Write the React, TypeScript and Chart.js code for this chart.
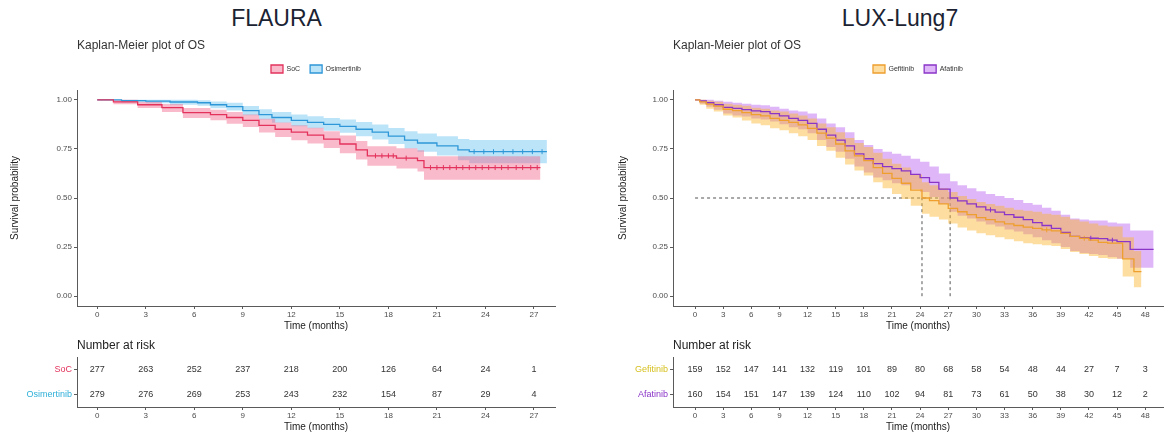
import React, { useEffect, useRef } from 'react';
import { Chart, registerables } from 'chart.js';

Chart.register(...registerables);
Chart.defaults.font.family = '"Liberation Sans", Arial, Helvetica, sans-serif';

// ================= FLAURA =================
const flauraXTicks = [0, 3, 6, 9, 12, 15, 18, 21, 24, 27];
const flauraRiskTimes = [0, 3, 6, 9, 12, 15, 18, 21, 24, 27];

const socTimes = [0, 1, 2.5, 4, 5.3, 7, 8, 9, 10, 11, 12, 13, 14, 15, 16, 16.7, 18.5, 19.8, 20.2, 27.4];
const socSurv = [1, 0.99, 0.975, 0.96, 0.935, 0.925, 0.91, 0.895, 0.87, 0.85, 0.835, 0.82, 0.8, 0.775, 0.745, 0.715, 0.703, 0.69, 0.655, 0.655];
const socLower = [1, 0.978, 0.958, 0.938, 0.908, 0.896, 0.878, 0.861, 0.833, 0.811, 0.794, 0.777, 0.755, 0.728, 0.696, 0.664, 0.65, 0.635, 0.593, 0.593];
const socUpper = [1, 1, 0.99, 0.979, 0.958, 0.95, 0.938, 0.925, 0.903, 0.885, 0.871, 0.858, 0.84, 0.818, 0.79, 0.763, 0.753, 0.743, 0.713, 0.713];
const socCensor = [17.2, 17.6, 18.0, 18.3, 19.1, 20.6, 21.0, 21.4, 21.8, 22.2, 22.6, 23.0, 23.4, 23.8, 24.2, 24.6, 25.0, 25.4, 25.9, 26.3, 26.8, 27.2];
const socAtRisk = [277, 263, 252, 237, 218, 200, 126, 64, 24, 1];

const osiTimes = [0, 1.5, 3, 4.5, 6.2, 7, 8, 9, 10, 10.8, 12, 13, 14, 15, 16, 17, 18, 19, 19.8, 21, 22.3, 23, 27.8];
const osiSurv = [1, 0.996, 0.993, 0.989, 0.985, 0.975, 0.965, 0.945, 0.925, 0.91, 0.895, 0.885, 0.875, 0.865, 0.85, 0.835, 0.815, 0.795, 0.78, 0.765, 0.745, 0.736, 0.736];
const osiLower = [1, 0.988, 0.982, 0.975, 0.97, 0.957, 0.945, 0.922, 0.9, 0.883, 0.866, 0.855, 0.843, 0.832, 0.815, 0.798, 0.775, 0.752, 0.735, 0.716, 0.692, 0.677, 0.677];
const osiUpper = [1, 1, 1, 1, 0.998, 0.992, 0.985, 0.968, 0.952, 0.938, 0.925, 0.916, 0.908, 0.9, 0.887, 0.874, 0.857, 0.84, 0.828, 0.815, 0.8, 0.795, 0.795];
const osiCensor = [23.3, 23.9, 24.5, 25.1, 25.7, 26.3, 26.9, 27.5];
const osiAtRisk = [279, 276, 269, 253, 243, 232, 154, 87, 29, 4];

// ================= LUX-Lung7 =================
const luxXTicks = [0, 3, 6, 9, 12, 15, 18, 21, 24, 27, 30, 33, 36, 39, 42, 45, 48];
const luxRiskTimes = [0, 3, 6, 9, 12, 15, 18, 21, 24, 27, 30, 33, 36, 39, 42, 45, 48];

const gefTimes = [0, 0.5, 1.2, 2, 3, 4, 5, 6, 7, 8, 9, 10, 11, 12, 13, 14, 15, 16, 17, 18, 19, 20, 21, 22, 23, 24.2, 25, 26, 27, 28, 29, 30, 31, 32, 33, 34, 35, 36, 37, 38, 39, 40, 41, 42, 43, 44, 45.6, 46.8, 47.6];
const gefSurv = [1, 0.99, 0.978, 0.968, 0.952, 0.945, 0.935, 0.925, 0.918, 0.905, 0.895, 0.885, 0.872, 0.855, 0.83, 0.805, 0.775, 0.74, 0.715, 0.69, 0.655, 0.625, 0.6, 0.575, 0.54, 0.5, 0.487, 0.47, 0.447, 0.43, 0.415, 0.4, 0.39, 0.378, 0.368, 0.36, 0.352, 0.345, 0.338, 0.333, 0.32, 0.305, 0.295, 0.285, 0.274, 0.27, 0.19, 0.125, 0.125];
const gefLower = [1, 0.975, 0.955, 0.94, 0.92, 0.91, 0.895, 0.88, 0.87, 0.855, 0.845, 0.83, 0.815, 0.795, 0.765, 0.74, 0.705, 0.67, 0.64, 0.615, 0.58, 0.55, 0.52, 0.495, 0.46, 0.42, 0.405, 0.39, 0.37, 0.35, 0.335, 0.32, 0.31, 0.3, 0.29, 0.28, 0.27, 0.265, 0.26, 0.255, 0.24, 0.225, 0.215, 0.205, 0.195, 0.19, 0.1, 0.045, 0.045];
const gefUpper = [1, 1, 0.995, 0.99, 0.98, 0.975, 0.97, 0.96, 0.955, 0.945, 0.94, 0.93, 0.92, 0.905, 0.88, 0.86, 0.835, 0.805, 0.78, 0.76, 0.73, 0.7, 0.675, 0.655, 0.62, 0.58, 0.565, 0.55, 0.53, 0.51, 0.495, 0.48, 0.47, 0.46, 0.45, 0.44, 0.435, 0.43, 0.42, 0.415, 0.405, 0.39, 0.38, 0.37, 0.36, 0.355, 0.3, 0.23, 0.23];
const gefCensor = [37.5, 41.5];
const gefAtRisk = [159, 152, 147, 141, 132, 119, 101, 89, 80, 68, 58, 54, 48, 44, 27, 7, 3];

const afaTimes = [0, 0.5, 1.2, 2, 3, 4, 5, 6, 7, 8, 9, 10, 11, 12, 13, 14, 15, 16, 17, 18, 19, 20, 21, 22, 23, 24, 25, 26, 27.2, 28, 29, 30, 31, 32, 33, 34, 35, 36, 37, 38, 39, 40, 41, 42, 43, 44, 45, 46.4, 48.9];
const afaSurv = [1, 0.994, 0.985, 0.975, 0.962, 0.956, 0.95, 0.944, 0.94, 0.93, 0.918, 0.906, 0.895, 0.88, 0.85, 0.82, 0.795, 0.765, 0.725, 0.7, 0.675, 0.66, 0.65, 0.638, 0.62, 0.604, 0.58, 0.545, 0.5, 0.485, 0.47, 0.455, 0.44, 0.428, 0.415, 0.402, 0.39, 0.375, 0.36, 0.345, 0.325, 0.305, 0.298, 0.295, 0.293, 0.285, 0.278, 0.238, 0.238];
const afaLower = [1, 0.98, 0.965, 0.95, 0.93, 0.92, 0.915, 0.905, 0.9, 0.89, 0.875, 0.86, 0.85, 0.83, 0.795, 0.76, 0.735, 0.7, 0.66, 0.63, 0.605, 0.59, 0.575, 0.565, 0.545, 0.53, 0.505, 0.47, 0.43, 0.41, 0.395, 0.38, 0.365, 0.355, 0.34, 0.33, 0.315, 0.3, 0.285, 0.27, 0.25, 0.23, 0.22, 0.215, 0.21, 0.2, 0.19, 0.145, 0.145];
const afaUpper = [1, 1, 1, 0.995, 0.99, 0.985, 0.98, 0.975, 0.972, 0.965, 0.955, 0.945, 0.94, 0.93, 0.905, 0.88, 0.86, 0.835, 0.795, 0.77, 0.75, 0.735, 0.725, 0.715, 0.7, 0.685, 0.66, 0.625, 0.585, 0.565, 0.55, 0.535, 0.52, 0.51, 0.5, 0.49, 0.475, 0.465, 0.45, 0.435, 0.415, 0.395, 0.39, 0.385, 0.385, 0.375, 0.37, 0.335, 0.335];
const afaCensor = [31.5, 42.2, 44.5];
const afaAtRisk = [160, 154, 151, 147, 139, 124, 110, 102, 94, 81, 73, 61, 50, 38, 30, 12, 2];

const luxMedianTimes = [24.2, 27.2];
const medianLevel = 0.5;

const yTicks = [0, 0.25, 0.5, 0.75, 1];

// ================= helpers =================
type Group = {
  name: string; times: number[]; surv: number[]; lower: number[]; upper: number[];
  censor: number[]; risk: number[]; line: string; band: string; label: string;
};
type Panel = {
  left: number; width: number; yAxisW: number; yTitlePad: number; rightPad: number;
  xMin: number; xMax: number; xTicks: number[]; riskTimes: number[]; groups: Group[]; medians?: number[];
};

const pts = (t: number[], v: number[]) => t.map((x, i) => ({ x, y: v[i] }));
const survAt = (t: number[], s: number[], x: number) => {
  let v = s[0];
  for (let i = 0; i < t.length; i++) if (t[i] <= x) v = s[i];
  return v;
};

const AXIS = '#5a5a5a';
const TICK_TXT = '#4d4d4d';

function xScale(p: Panel, height: number) {
  return {
    type: 'linear', min: p.xMin, max: p.xMax,
    afterBuildTicks: (s: any) => { s.ticks = p.xTicks.map((v) => ({ value: v })); },
    ticks: { font: { size: 8 }, color: TICK_TXT, padding: 1, autoSkip: false, maxRotation: 0, callback: (v: any) => String(v) },
    grid: { drawOnChartArea: false, tickLength: 3, color: AXIS },
    border: { color: AXIS, width: 1 },
    title: { display: true, text: 'Time (months)', font: { size: 10 }, color: '#222', padding: { top: 0, bottom: height === 29 ? 3 : 2 } },
    afterFit: (s: any) => { s.height = height; },
  };
}

function kmConfig(p: Panel): any {
  const datasets: any[] = [];
  p.groups.forEach((g) => datasets.push({
    label: g.name, data: pts(g.times, g.surv), showLine: true, stepped: true,
    borderColor: g.line, backgroundColor: g.band, borderWidth: 1.3, pointRadius: 0, fill: false,
  }));
  p.groups.forEach((g) => datasets.push({
    label: '', data: g.censor.map((t) => ({ x: t, y: survAt(g.times, g.surv, t) })), showLine: false,
    pointStyle: 'line', rotation: 90, pointRadius: 2.5, borderColor: g.line, backgroundColor: g.line, borderWidth: 1,
  }));
  p.groups.forEach((g) => {
    datasets.push({
      label: '', data: pts(g.times, g.lower), showLine: true, stepped: true,
      borderColor: 'rgba(0,0,0,0)', borderWidth: 1, pointRadius: 0, fill: false,
    });
    datasets.push({
      label: '', data: pts(g.times, g.upper), showLine: true, stepped: true,
      borderColor: 'rgba(0,0,0,0)', borderWidth: 1, backgroundColor: g.band, pointRadius: 0, fill: '-1',
    });
  });
  if (p.medians) {
    const mx = Math.max(...p.medians);
    datasets.push({
      label: '', data: [{ x: 0, y: medianLevel }, { x: mx, y: medianLevel }], showLine: true,
      borderColor: '#555', borderWidth: 1, borderDash: [3, 3], pointRadius: 0, fill: false,
    });
    p.medians.forEach((m) => datasets.push({
      label: '', data: [{ x: m, y: 0 }, { x: m, y: medianLevel }], showLine: true,
      borderColor: '#555', borderWidth: 1, borderDash: [3, 3], pointRadius: 0, fill: false,
    }));
  }
  return {
    type: 'scatter',
    data: { datasets },
    options: {
      animation: false, responsive: false, events: [],
      layout: { padding: { left: 0, right: p.rightPad, top: 0, bottom: 0 } },
      plugins: {
        title: {
          display: true, text: 'Kaplan-Meier plot of OS', align: 'start', fullSize: false, color: '#333',
          font: { size: 12, weight: 'normal' }, padding: { top: 8.8, bottom: 1.8 },
        },
        legend: {
          display: true, position: 'top', align: 'center', fullSize: false,
          labels: { boxWidth: 12, boxHeight: 8, padding: 10, font: { size: 7 }, color: '#333', filter: (item: any) => !!item.text },
        },
        tooltip: { enabled: false },
      },
      scales: {
        x: xScale(p, 29),
        xTop: {
          type: 'linear', position: 'top', display: true,
          grid: { display: false, drawTicks: false }, border: { display: false }, ticks: { display: false },
          afterFit: (s: any) => { s.height = 7; },
        },
        y: {
          type: 'linear', min: -0.05, max: 1.05,
          afterBuildTicks: (s: any) => { s.ticks = yTicks.map((v) => ({ value: v })); },
          ticks: { font: { size: 8 }, color: TICK_TXT, padding: 2, callback: (v: any) => Number(v).toFixed(2) },
          grid: { drawOnChartArea: false, tickLength: 3, color: AXIS },
          border: { color: AXIS, width: 1 },
          title: { display: true, text: 'Survival probability', font: { size: 10 }, color: '#222', padding: { top: p.yTitlePad, bottom: 0 } },
          afterFit: (s: any) => { s.width = p.yAxisW; },
        },
      },
    },
  };
}

const riskTextPlugin = {
  id: 'riskText',
  afterDatasetsDraw(chart: any) {
    const ctx = chart.ctx;
    ctx.save();
    ctx.font = '9px "Liberation Sans", Arial, sans-serif';
    ctx.fillStyle = '#333';
    ctx.textAlign = 'center';
    ctx.textBaseline = 'middle';
    chart.data.datasets.forEach((ds: any, di: number) => {
      const meta = chart.getDatasetMeta(di);
      meta.data.forEach((el: any, i: number) => ctx.fillText(String(ds.data[i].n), el.x, el.y));
    });
    ctx.restore();
  },
};

function riskConfig(p: Panel): any {
  const names = p.groups.map((g) => g.name);
  const colors = p.groups.map((g) => g.label);
  return {
    type: 'scatter',
    data: {
      datasets: p.groups.map((g) => ({
        label: g.name,
        data: p.riskTimes.map((t, i) => ({ x: t, y: g.name, n: g.risk[i] })),
        pointRadius: 0, showLine: false,
      })),
    },
    options: {
      animation: false, responsive: false, events: [],
      layout: { padding: { left: 0, right: p.rightPad, top: 0, bottom: 0 } },
      plugins: {
        legend: { display: false }, tooltip: { enabled: false },
        title: {
          display: true, text: 'Number at risk', align: 'start', fullSize: false, color: '#222',
          font: { size: 12, weight: 'normal' }, padding: { top: 2.8, bottom: 3.8 },
        },
      },
      scales: {
        x: xScale(p, 28),
        y: {
          type: 'category', labels: names, offset: true,
          ticks: { font: { size: 9 }, padding: 2, color: (c: any) => colors[c.index] || '#333' },
          grid: { drawOnChartArea: false, tickLength: 3, color: AXIS, offset: false },
          border: { color: AXIS, width: 1 },
          afterFit: (s: any) => { s.width = p.yAxisW; },
        },
      },
    },
    plugins: [riskTextPlugin],
  };
}

const flaura: Panel = {
  left: 0, width: 580, yAxisW: 77, yTitlePad: 9, rightPad: 25,
  xMin: -1.25, xMax: 28.3, xTicks: flauraXTicks, riskTimes: flauraRiskTimes,
  groups: [
    { name: 'SoC', times: socTimes, surv: socSurv, lower: socLower, upper: socUpper, censor: socCensor, risk: socAtRisk,
      line: '#e3325c', band: 'rgba(240,85,125,0.4)', label: '#e3325c' },
    { name: 'Osimertinib', times: osiTimes, surv: osiSurv, lower: osiLower, upper: osiUpper, censor: osiCensor, risk: osiAtRisk,
      line: '#2e97d8', band: 'rgba(80,185,240,0.38)', label: '#2fb0d8' },
  ],
};

const lux: Panel = {
  left: 590, width: 581, yAxisW: 83, yTitlePad: 27, rightPad: 8,
  xMin: -2.35, xMax: 49.9, xTicks: luxXTicks, riskTimes: luxRiskTimes, medians: luxMedianTimes,
  groups: [
    { name: 'Gefitinib', times: gefTimes, surv: gefSurv, lower: gefLower, upper: gefUpper, censor: gefCensor, risk: gefAtRisk,
      line: '#ee9f2e', band: 'rgba(250,180,45,0.45)', label: '#d6c020' },
    { name: 'Afatinib', times: afaTimes, surv: afaSurv, lower: afaLower, upper: afaUpper, censor: afaCensor, risk: afaAtRisk,
      line: '#8a35c8', band: 'rgba(185,95,240,0.45)', label: '#8a35c8' },
  ],
};

function ChartBox({ left, top, width, height, make }: { left: number; top: number; width: number; height: number; make: () => any }) {
  const ref = useRef<HTMLCanvasElement | null>(null);
  useEffect(() => {
    const c = new Chart(ref.current as HTMLCanvasElement, make());
    return () => c.destroy();
  }, []);
  return (
    <canvas ref={ref} width={width} height={height}
      style={{ position: 'absolute', left, top, width, height, display: 'block' }} />
  );
}

const titleStyle: React.CSSProperties = {
  position: 'absolute', top: 5, width: 200, textAlign: 'center', fontSize: 23, lineHeight: '27px',
  color: '#1b2333', fontFamily: '"Liberation Sans", Arial, sans-serif',
};

export default function App() {
  return (
    <div style={{ position: 'absolute', left: 0, top: 0, width: 1171, height: 435, background: '#fff', overflow: 'hidden' }}>
      <div style={{ ...titleStyle, left: 176.5 }}>FLAURA</div>
      <div style={{ ...titleStyle, left: 800 }}>LUX-Lung7</div>
      <ChartBox left={flaura.left} top={30} width={flaura.width} height={305} make={() => kmConfig(flaura)} />
      <ChartBox left={flaura.left} top={336} width={flaura.width} height={99} make={() => riskConfig(flaura)} />
      <ChartBox left={lux.left} top={30} width={lux.width} height={305} make={() => kmConfig(lux)} />
      <ChartBox left={lux.left} top={336} width={lux.width} height={99} make={() => riskConfig(lux)} />
    </div>
  );
}
